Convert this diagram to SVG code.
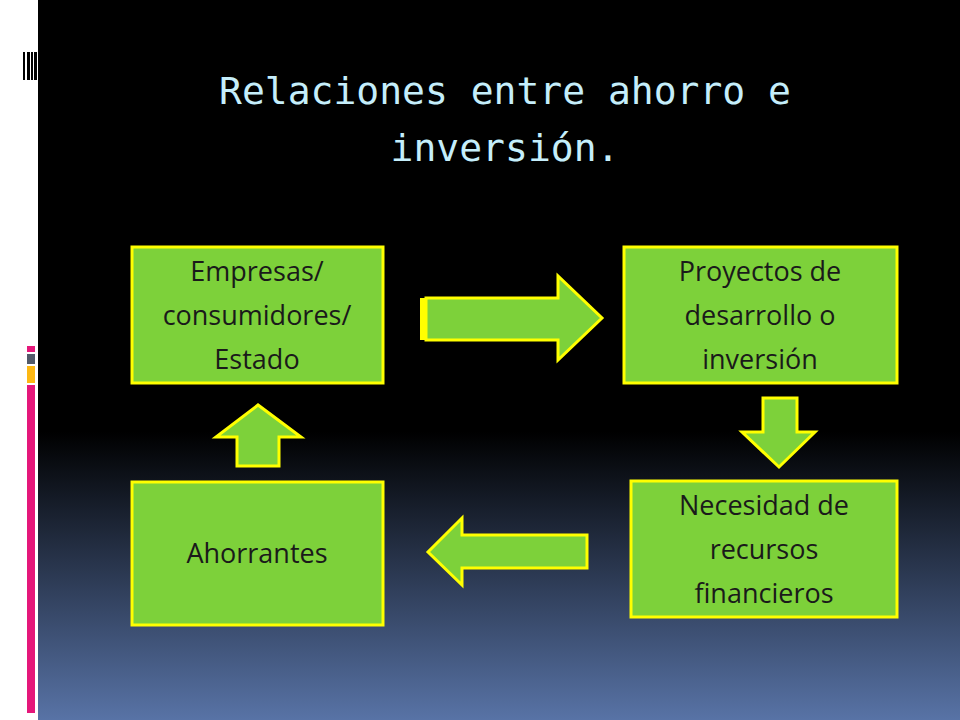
<svg xmlns="http://www.w3.org/2000/svg" width="960" height="720" viewBox="0 0 960 720">
<defs>
<linearGradient id="bg" x1="0" y1="0" x2="0" y2="1">
<stop offset="0" stop-color="#000"/><stop offset="0.6" stop-color="#000"/><stop offset="1" stop-color="#5873a6"/>
</linearGradient>
<style>
.box{fill:#7dd13a;stroke:#ffff00;stroke-width:3}
.arr{fill:#7dd13a;stroke:#ffff00;stroke-width:3;stroke-linejoin:miter}
.t{font-family:"Open Sans","Liberation Sans",sans-serif;font-size:27px;fill:#1a1a1a;text-anchor:middle}
.ti{font-family:"DejaVu Sans Mono","Liberation Mono",monospace;font-size:38px;fill:#c5eefb;text-anchor:middle}
</style>
</defs>
<rect width="960" height="720" fill="#fff"/>
<rect x="38" width="922" height="720" fill="url(#bg)"/>
<g fill="#000"><rect x="23" y="52" width="2" height="28"/><rect x="27" y="52" width="3" height="28"/><rect x="31" y="52" width="2" height="28"/><rect x="34" y="52" width="3" height="28"/></g>
<rect x="27" y="346" width="8" height="6" fill="#e5177a"/>
<rect x="27" y="354" width="8" height="10" fill="#525a6a"/>
<rect x="27" y="366" width="8" height="17" fill="#fdb813"/>
<rect x="27" y="385" width="8" height="328" fill="#e5177a"/>
<text class="ti" x="505" y="104">Relaciones entre ahorro e</text>
<text class="ti" x="505" y="161">inversión.</text>
<g id="connectors">
<path class="arr" d="M426,298 H558 V276 L602,318 L558,360 V340 H426 Z"/>
<rect x="420" y="298" width="6" height="42" fill="#ffff00"/>
<path class="arr" d="M763,398 H797 V432 H815 L779,467 L742,432 H763 Z"/>
<path class="arr" d="M237,466 V437 H216 L258,405 L301,437 H279 V466 Z"/>
<path class="arr" d="M587,535 V568 H462 V585 L428,552 L462,518 V535 Z"/>
</g>
<g id="n1"><rect class="box" x="132" y="247" width="251" height="136"/>
<text class="t" x="257" y="281">Empresas/</text><text class="t" x="257" y="325">consumidores/</text><text class="t" x="257" y="369">Estado</text></g>
<g id="n2"><rect class="box" x="624" y="247" width="273" height="136"/>
<text class="t" x="760" y="281">Proyectos de</text><text class="t" x="760" y="325">desarrollo o</text><text class="t" x="760" y="369">inversión</text></g>
<g id="n3"><rect class="box" x="631" y="481" width="266" height="136"/>
<text class="t" x="764" y="515">Necesidad de</text><text class="t" x="764" y="559">recursos</text><text class="t" x="764" y="603">financieros</text></g>
<g id="n4"><rect class="box" x="132" y="482" width="251" height="143"/>
<text class="t" x="257" y="563">Ahorrantes</text></g>
</svg>
